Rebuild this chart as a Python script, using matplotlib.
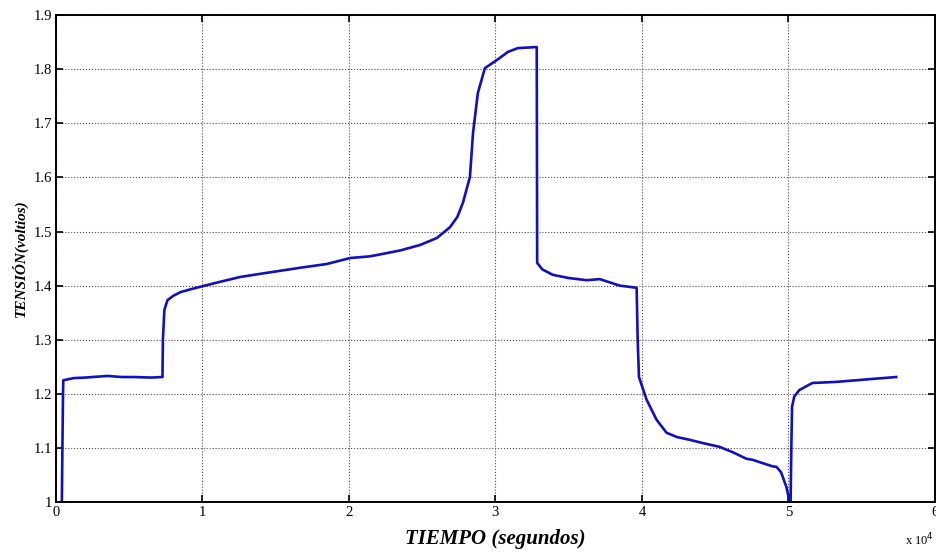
#!/usr/bin/env python3

from matplotlib import pyplot as plt
from matplotlib.ticker import FuncFormatter

# time (s) and voltage (V)
tiempo = [400, 440, 480, 500, 1210, 2000, 3510, 4500, 5300, 6500, 7270,
          7300, 7400, 7610, 8000, 8500, 9300, 10320, 11200, 12590, 14000,
          16670, 18500, 20080, 21400, 22000, 23500, 24850, 26000, 26900,
          27400, 27780, 28260, 28470, 28800, 29280, 30100, 30850, 31530,
          32820, 32850, 33200, 33910, 35000, 36230, 37120, 38480, 39640,
          39710, 39800, 40320, 41000, 41680, 42400, 43250, 44300, 45290,
          46200, 47130, 47550, 48900, 49180, 49500, 49860, 50060, 50150,
          50200, 50250, 50400, 50750, 51640, 53270, 55520, 57360]
tension = [1.0, 1.10, 1.20, 1.225, 1.229, 1.230, 1.233, 1.231, 1.231,
           1.230, 1.231,
           1.30, 1.355, 1.373, 1.381, 1.388, 1.394, 1.401, 1.407, 1.416,
           1.422, 1.433, 1.440, 1.451, 1.454, 1.457, 1.465, 1.475, 1.488,
           1.508, 1.527, 1.553, 1.601, 1.682, 1.756, 1.802, 1.817, 1.832,
           1.839, 1.841, 1.442, 1.430, 1.420, 1.414, 1.410, 1.412, 1.400,
           1.396, 1.300, 1.231, 1.189, 1.152, 1.128, 1.120, 1.115, 1.108,
           1.102, 1.092, 1.080, 1.078, 1.066, 1.065, 1.055, 1.028, 1.004,
           1.0, 1.10, 1.176, 1.195, 1.207, 1.220, 1.222, 1.227, 1.231]

xticks = [0, 10000, 20000, 30000, 40000, 50000, 60000]
yticks = [1.0, 1.1, 1.2, 1.3, 1.4, 1.5, 1.6, 1.7, 1.8, 1.9]

plt.rcParams['font.family'] = ['Liberation Serif', 'DejaVu Serif']

fig = plt.figure(figsize=(9.36, 5.52), dpi=100)
ax = fig.add_axes([0.0598, 0.0906, 0.939, 0.882])

ax.plot(tiempo, tension, color='#1010c0', linewidth=1.9)

ax.set_xlim(0, 60000)
ax.set_ylim(1.0, 1.9)
ax.set_xticks(xticks)
ax.set_yticks(yticks)
ax.xaxis.set_major_formatter(FuncFormatter(lambda v, p: '%g' % (v / 1e4)))
ax.yaxis.set_major_formatter(FuncFormatter(lambda v, p: '%g' % round(v, 1)))
ax.tick_params(direction='in', length=5, width=1.2, labelsize=10.5,
               top=True, right=True, pad=3)
ax.grid(True, linestyle=':', color='0.3', linewidth=0.8)
for sp in ax.spines.values():
    sp.set_linewidth(1.4)

ax.set_xlabel('TIEMPO (segundos)', fontsize=15, fontweight='bold',
              fontstyle='italic', labelpad=7)
ax.set_ylabel('TENSIÓN(voltios)', fontsize=11, fontweight='bold',
              fontstyle='italic', labelpad=4)
ax.text(0.966, -0.078, r'x 10$^{4}$', transform=ax.transAxes,
        fontsize=9, va='center', ha='left')

fig.savefig('out.png', dpi=100)
